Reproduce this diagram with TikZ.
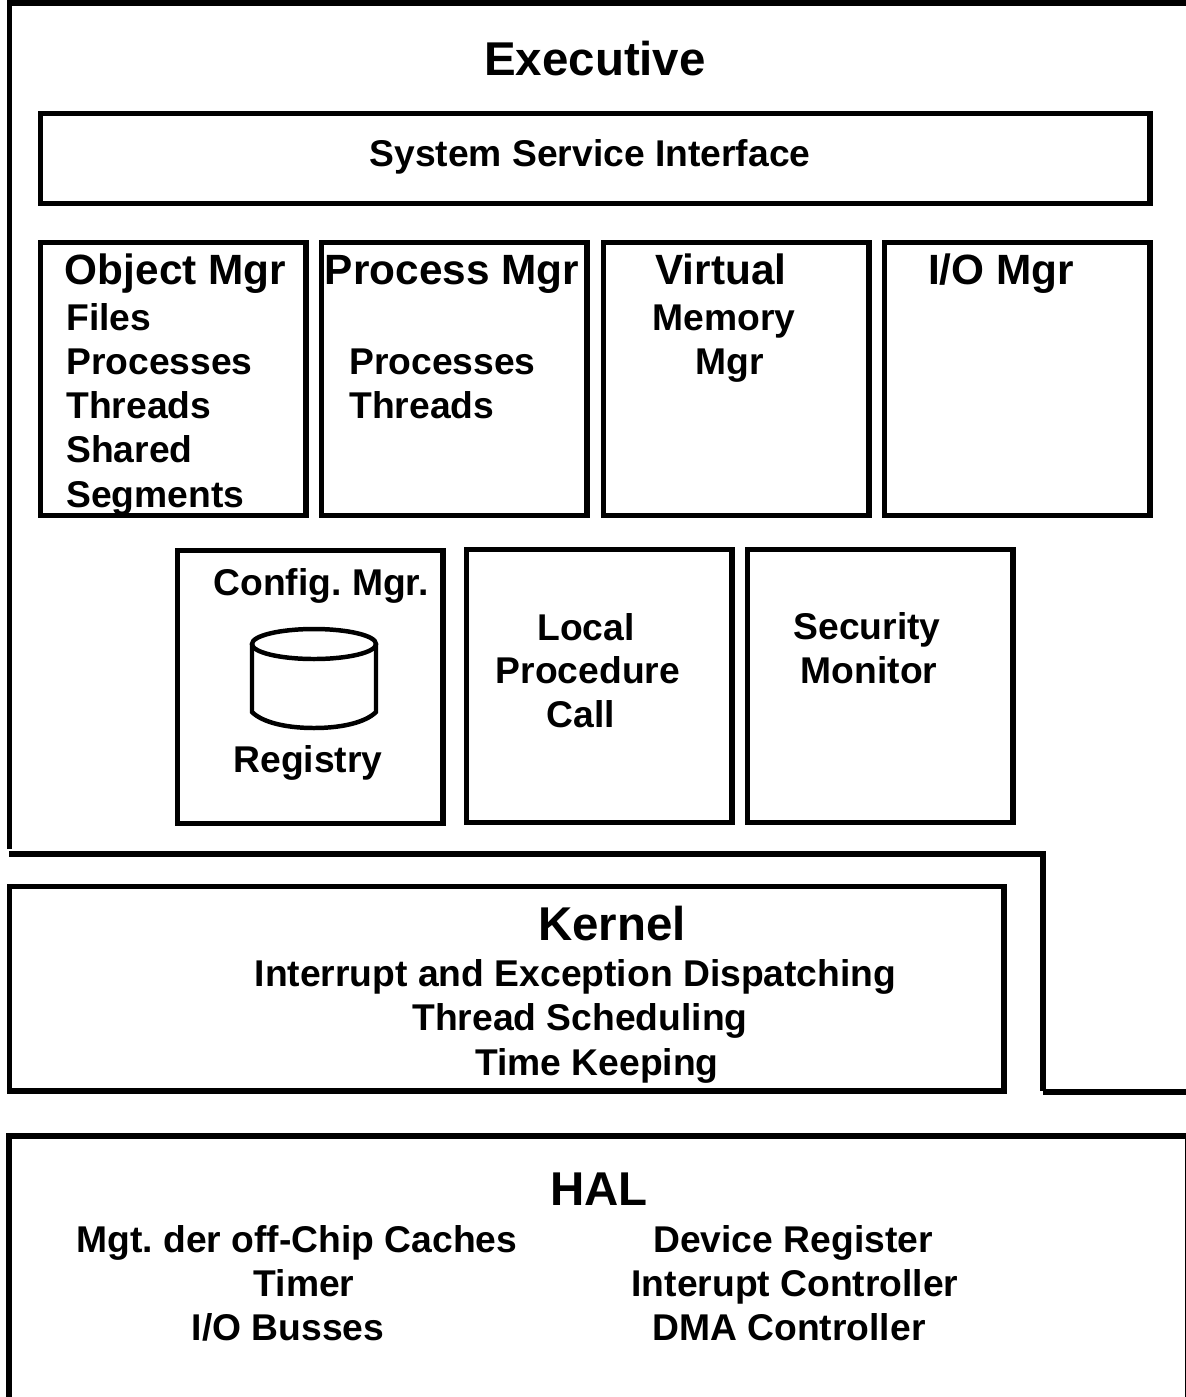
\documentclass[tikz,border=0pt]{standalone}
\usepackage{fontspec}
\setmainfont[Ligatures=NoCommon]{Liberation Sans}
\usetikzlibrary{positioning}
\frenchspacing

\tikzset{
    frameline/.style={line width=5.5*0.5669pt},
    drumline/.style={line width=4.5*0.5669pt},
    modbox/.style={draw, line width=5.5*0.5669pt, anchor=north west, inner sep=0pt, minimum width=267*0.5669pt, minimum height=274*0.5669pt},
    bigtext/.style={font=\fontsize{27}{27}\selectfont\bfseries, inner sep=0pt, anchor=base},
    midtext/.style={font=\fontsize{24.1}{24}\selectfont\bfseries, inner sep=0pt, anchor=base},
    smalltext/.style={font=\fontsize{21.2}{21}\selectfont\bfseries, inner sep=0pt, anchor=base},
    lefttext/.style={smalltext, anchor=base west}
}

\begin{document}
\begin{tikzpicture}[x=0.02cm, y=-0.02cm]
    \useasboundingbox (0,0) rectangle (1186,1397);

    % Executive frame
    \draw[frameline] (9.5,849) -- (9.5,3) -- (1186,3);
    \draw[frameline] (9,854) -- (1043,854) -- (1043,1091);
    \draw[frameline] (1043,1092) -- (1186,1092);
    \node[bigtext] (executive) at (595,75) {Executive};

    % System service interface
    \node[modbox, minimum width=1114*0.5669pt, minimum height=90*0.5669pt] (ssi) at (37.5,111) {};
    \node[smalltext] (ssilabel) at (590,166) {System Service Interface};

    % Upper row
    \node[modbox] (objbox) at (37.5,240) {};
    \node[modbox] (procbox) at (318.5,240) {};
    \node[modbox] (vmbox) at (600.5,240) {};
    \node[modbox] (iobox) at (881.5,240) {};

    \node[midtext] (objtitle) at (175.5,284) {Object Mgr};
    \node[lefttext] (objfiles) at (66,330) {Files};
    \node[lefttext] (objproc) at (66,374) {Processes};
    \node[lefttext] (objthr) at (66,418) {Threads};
    \node[lefttext] (objsh) at (66,462) {Shared};
    \node[lefttext] (objseg) at (66,507) {Segments};

    \node[midtext] (proctitle) at (452,284) {Process Mgr};
    \node[lefttext] (procproc) at (349,374) {Processes};
    \node[lefttext] (procthr) at (349,418) {Threads};

    \node[midtext] (vmtitle) at (721,284) {Virtual};
    \node[smalltext] (vmmem) at (724,330) {Memory};
    \node[smalltext] (vmmgr) at (730,374) {Mgr};

    \node[midtext] (iotitle) at (1001,284) {I/O Mgr};

    % Lower row
    \node[modbox] (cfgbox) at (174.5,548) {};
    \node[modbox] (lpcbox) at (463.5,547) {};
    \node[modbox] (secbox) at (744.5,547) {};

    \node[smalltext] (cfgtitle) at (321,595) {Config. Mgr.};
    % Registry drum
    \draw[drumline] (252,644) -- (252,712) .. controls (262,722) and (285,728) .. (314,728)
        .. controls (343,728) and (366,722) .. (376,712) -- (376,644);
    \draw[drumline] (314,644) ellipse (62 and 15);
    \node[smalltext] (registry) at (308,772) {Registry};

    \node[smalltext] (lpcone) at (586,640) {Local};
    \node[smalltext] (lpctwo) at (588,683) {Procedure};
    \node[smalltext] (lpcthree) at (581,727) {Call};

    \node[smalltext] (secone) at (867,639) {Security};
    \node[smalltext] (sectwo) at (869,683) {Monitor};

    % Kernel
    \node[modbox, minimum width=998*0.5669pt, minimum height=205*0.5669pt] (kernel) at (7,884) {};
    \node[bigtext] (kerneltitle) at (612,940) {Kernel};
    \node[smalltext] (kernone) at (575.5,986) {Interrupt and Exception Dispatching};
    \node[smalltext] (kerntwo) at (580,1030) {Thread Scheduling};
    \node[smalltext] (kernthree) at (597,1075) {Time Keeping};

    % HAL
    \draw[frameline] (9,1397) -- (9,1136) -- (1186,1136);
    \draw[line width=0.6pt] (1185.5,1136) -- (1185.5,1397);
    \node[bigtext] (hal) at (599,1205) {HAL};
    \node[smalltext] (halone) at (297,1252) {Mgt. der off-Chip Caches};
    \node[smalltext] (haltwo) at (304,1296) {Timer};
    \node[smalltext] (halthree) at (288,1340) {I/O Busses};
    \node[smalltext] (halfour) at (793,1252) {Device Register};
    \node[smalltext] (halfive) at (795,1296) {Interupt Controller};
    \node[smalltext] (halsix) at (789,1340) {DMA Controller};
\end{tikzpicture}
\end{document}
